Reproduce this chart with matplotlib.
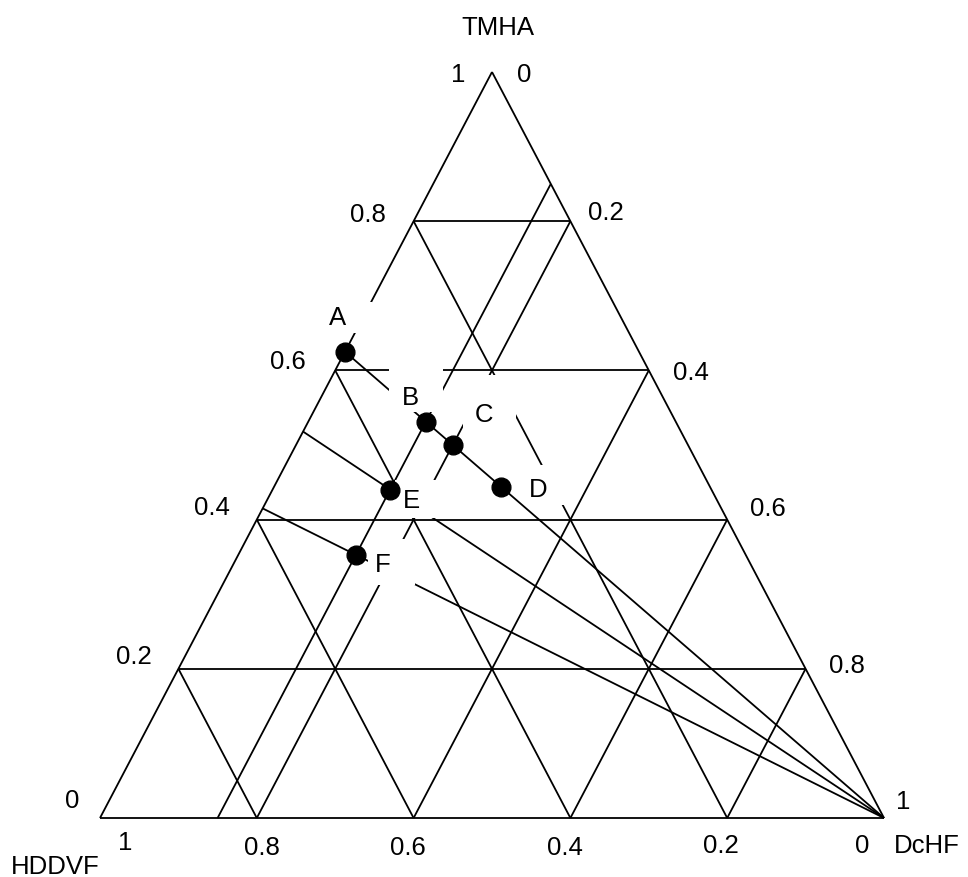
import matplotlib
matplotlib.use("Agg")
import matplotlib.pyplot as plt
from matplotlib.patches import Rectangle

plt.rcParams['font.family'] = ['Liberation Sans', 'DejaVu Sans']

# grid levels of the triangle
levels = [0.2, 0.4, 0.6, 0.8]
left_ticks = ['1', '0.8', '0.6', '0.4', '0.2', '0']     # TMHA
right_ticks = ['0', '0.2', '0.4', '0.6', '0.8', '1']    # DcHF
bottom_ticks = ['1', '0.8', '0.6', '0.4', '0.2', '0']   # HDDVF

# extra line of constant DcHF through B, E, F
dchf_line = 0.15
# tie lines to the DcHF corner, given by TMHA where they start on the HDDVF-TMHA side
tie_tmha = [0.625, 0.518, 0.415]

# compositions (fractions)
names = ['A', 'B', 'C', 'D', 'E', 'F']
hddvf = [0.375, 0.319, 0.30, 0.266, 0.41, 0.497]
tmha = [0.625, 0.531, 0.50, 0.444, 0.44, 0.353]
dchf = [0.0, 0.15, 0.20, 0.29, 0.15, 0.15]

W, H = 968, 878
FS = 18.5


def xy(h, t, d):
    # HDDVF left corner, TMHA top, DcHF right corner
    return d + t / 2.0, t


def px(x, y):
    # picture pixel -> axes data (for the annotations)
    return (x - 100) / 784.0, (819 - y) / 746.0


def seg(p, q):
    ax.plot([p[0], q[0]], [p[1], q[1]], color='black', lw=1.3, zorder=1,
            solid_capstyle='butt', clip_on=False)


fig = plt.figure(figsize=(W / 100, H / 100), dpi=100)
ax = fig.add_axes([100 / W, (H - 819) / H, 784 / W, 746 / H])
ax.set_xlim(0, 1)
ax.set_ylim(0, 1)
ax.axis('off')

# outline
seg(xy(1, 0, 0), xy(0, 0, 1))
seg(xy(1, 0, 0), xy(0, 1, 0))
seg(xy(0, 1, 0), xy(0, 0, 1))

# grid
for v in levels:
    seg(xy(1 - v, v, 0), xy(0, v, 1 - v))      # TMHA const
    seg(xy(v, 1 - v, 0), xy(v, 0, 1 - v))      # HDDVF const
    seg(xy(1 - v, 0, v), xy(0, 1 - v, v))      # DcHF const

seg(xy(0, 1 - dchf_line, dchf_line), xy(1 - dchf_line, 0, dchf_line))

for tt in tie_tmha:
    seg(xy(1 - tt, tt, 0), xy(0, 0, 1))

# labels of the points, in white boxes that hide the lines under them
boxes = {'A': ((338, 318), (318, 303, 372, 334)),
         'B': ((410, 398), (389, 366, 443, 413)),
         'C': ((484, 415), (463, 376, 516, 436)),
         'D': ((538, 490), (524, 466, 566, 506)),
         'E': ((411, 501), (395, 481, 442, 519)),
         'F': ((383, 565), (368, 540, 415, 586))}
for n in names:
    (tx, ty), (x0, y0, x1, y1) = boxes[n]
    a = px(x0, y1)
    b = px(x1, y0)
    ax.add_patch(Rectangle(a, b[0] - a[0], b[1] - a[1], facecolor='white',
                           edgecolor='none', zorder=2, clip_on=False))
    ax.text(*px(tx, ty), n, fontsize=FS, ha='center', va='center', zorder=3)

for n, h, t, d in zip(names, hddvf, tmha, dchf):
    x, y = xy(h, t, d)
    ax.plot(x, y, 'o', color='black', markersize=13.5, zorder=4, clip_on=False)

# tick labels
left_pos = [(458, 75), (368, 215), (288, 362), (212, 508), (134, 657), (72, 801)]
right_pos = [(524, 75), (606, 213), (691, 373), (768, 509), (847, 666), (903, 802)]
bottom_pos = [(125, 843), (262, 848), (408, 848), (565, 848), (721, 846), (862, 846)]
for labels, pos in [(left_ticks, left_pos), (right_ticks, right_pos), (bottom_ticks, bottom_pos)]:
    for s, (x, y) in zip(labels, pos):
        ax.text(*px(x, y), s, fontsize=FS, ha='center', va='center')

ax.text(*px(498, 28), 'TMHA', fontsize=FS, ha='center', va='center')
ax.text(*px(55, 867), 'HDDVF', fontsize=FS, ha='center', va='center')
ax.text(*px(927, 846), 'DcHF', fontsize=FS, ha='center', va='center')

fig.savefig('out.png', dpi=100)
